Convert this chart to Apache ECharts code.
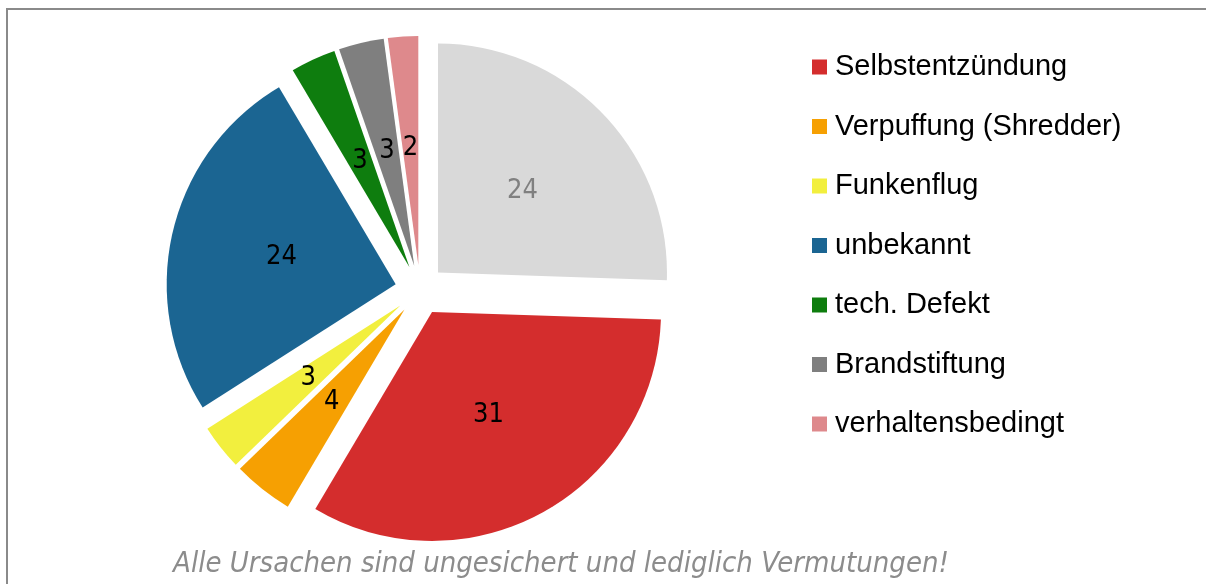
<!DOCTYPE html>
<html>
<head>
<meta charset="utf-8">
<script src="https://cdn.jsdelivr.net/npm/echarts@6/dist/echarts.min.js"></script>
<style>
  html, body { margin: 0; padding: 0; background: #fff; }
  #demo { width: 1206px; height: 584px; }
</style>
</head>
<body>
<div id="demo"></div>
<script>
// Ursachen (Reihenfolge wie im Kreis, im Uhrzeigersinn ab 12 Uhr)
var names = ['Sonstige', 'Selbstentzündung', 'Verpuffung (Shredder)', 'Funkenflug',
             'unbekannt', 'tech. Defekt', 'Brandstiftung', 'verhaltensbedingt'];
var values = [24, 31, 4, 3, 24, 3, 3, 2];
var colors = ['#D9D9D9', '#D42D2D', '#F6A002', '#F2EF3E', '#1B6592', '#0E7D0E', '#7F7F7F', '#DE898C'];
var legendNames = names.slice(1); // der graue Sektor steht nicht in der Legende
var note = 'Alle Ursachen sind ungesichert und lediglich Vermutungen!';

window.onload = function() {
    var pieData = names.map(function(n, i) {
        return {
            name: n,
            value: values[i],
            selected: true,
            itemStyle: { color: colors[i] },
            label: { color: i === 0 ? '#808080' : '#000' }
        };
    });

    var option = {
        animation: false,
        graphic: [{
            type: 'rect',
            shape: { x: 7, y: 9, width: 1400, height: 800 },
            style: { fill: 'none', stroke: '#8a8a8a', lineWidth: 2 },
            silent: true
        }, {
            type: 'text',
            x: 561,
            y: 564,
            style: {
                text: note,
                fill: '#8c8c8c',
                font: 'oblique 29px "DejaVu Sans Condensed", "DejaVu Sans"',
                align: 'center',
                verticalAlign: 'middle'
            },
            silent: true
        }],
        legend: {
            orient: 'vertical',
            left: 812,
            top: 52,
            padding: 0,
            icon: 'rect',
            itemWidth: 15,
            itemHeight: 15,
            itemGap: 29.5,
            data: legendNames,
            selectedMode: false,
            textStyle: {
                fontFamily: '"Liberation Sans", Arial',
                fontSize: 29,
                lineHeight: 30,
                padding: [0, 0, 0, 3],
                color: '#000'
            }
        },
        series: [{
            type: 'pie',
            center: [420, 290],
            radius: 229,
            startAngle: 90,
            clockwise: true,
            selectedMode: 'multiple',
            selectedOffset: 25,
            avoidLabelOverlap: false,
            emphasis: { disabled: true },
            label: {
                show: true,
                position: 'inside',
                formatter: '{c}',
                fontFamily: '"DejaVu Sans Condensed", "DejaVu Sans"',
                fontSize: 27
            },
            labelLine: { show: false },
            data: pieData
        }]
    };
    var myCharts = echarts.init(document.getElementById('demo'));
    myCharts.setOption(option);
};
</script>
</body>
</html>
